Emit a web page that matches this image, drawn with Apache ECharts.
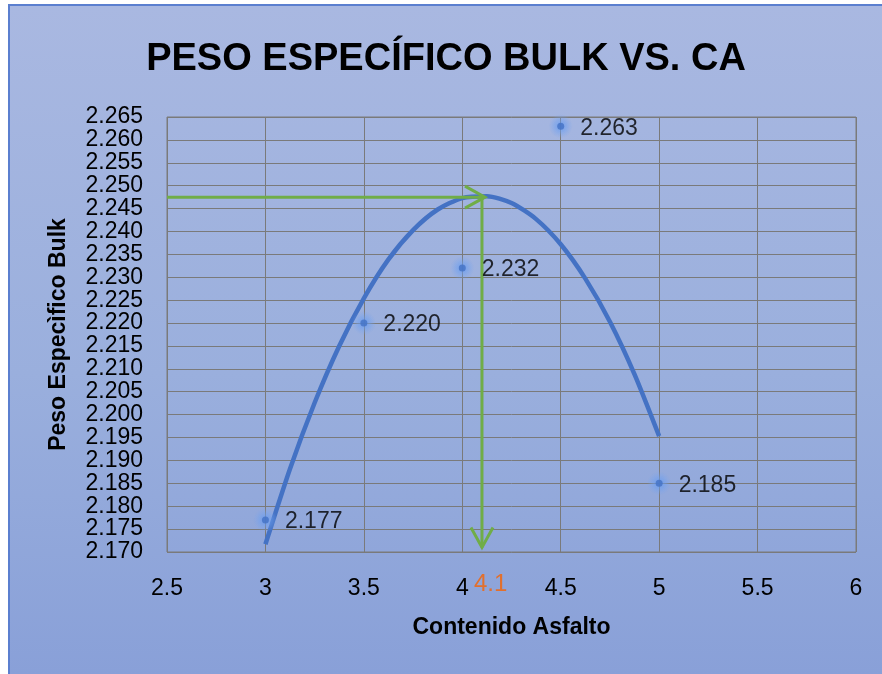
<!DOCTYPE html>
<html>
<head>
<meta charset="utf-8">
<script src="https://cdn.jsdelivr.net/npm/echarts@6/dist/echarts.min.js"></script>
<style>
  html, body { margin: 0; padding: 0; background: #ffffff; }
  #frame {
    position: absolute; left: 8px; top: 4px; width: 874px; height: 670px;
    box-sizing: border-box;
    border-left: 2px solid #5b7fcf; border-top: 2px solid #5b7fcf;
    background: linear-gradient(to bottom, #a9b8e1 0%, #9aafdd 55%, #89a0d8 100%);
  }
  #chart { width: 872px; height: 668px; }
</style>
</head>
<body>
<div id="frame"><div id="chart"></div></div>
<script>
// Asphalt content (%) and measured bulk specific gravity
const contenido = [3, 3.5, 4, 4.5, 5];
const pesoBulk = [2.177, 2.220, 2.232, 2.263, 2.185];

// Polynomial trendline, sampled along the drawn curve
const trendX = [3, 3.125, 3.25, 3.375, 3.5, 3.625, 3.75, 3.875, 4, 4.125, 4.25, 4.375, 4.5, 4.625, 4.75, 4.875, 5];
const trendY = [2.1717, 2.1882, 2.2026, 2.2150, 2.2254, 2.2339, 2.2403, 2.2448, 2.2473,
                2.2477, 2.2462, 2.2427, 2.2372, 2.2297, 2.2203, 2.2088, 2.1953];

// Optimum
const optimoCA = 4.1;
const optimoPeso = 2.2475;

// Axis ranges
const xMin = 2.5, xMax = 6, xStep = 0.5;
const yMin = 2.170, yMax = 2.265, yStep = 0.005;

// Guide arrows: [x1, y1, x2, y2]
const arrows = [
  [xMin, optimoPeso, optimoCA, optimoPeso],
  [optimoCA, optimoPeso, optimoCA, yMin + 0.001]
];

const FONT = 'Liberation Sans';
const chart = echarts.init(document.getElementById('chart'), null, { renderer: 'canvas' });

const green = '#70ad47';

function renderArrow(params, api) {
  const p1 = api.coord([api.value(0), api.value(1)]);
  const p2 = api.coord([api.value(2), api.value(3)]);
  const dx = p2[0] - p1[0], dy = p2[1] - p1[1];
  const len = Math.sqrt(dx * dx + dy * dy) || 1;
  const ux = dx / len, uy = dy / len;
  // horizontal guide overshoots the vertical one slightly so the tip meets it
  const tipX = p2[0] + ux * 3, tipY = p2[1];
  const headLen = 20, headHalf = 11;
  const bx = tipX - ux * headLen, by = tipY - uy * headLen;
  const nx = -uy, ny = ux;
  return {
    type: 'group',
    children: [
      { type: 'line', shape: { x1: p1[0], y1: p1[1], x2: tipX, y2: tipY },
        style: { stroke: green, lineWidth: 3 } },
      { type: 'polyline',
        shape: { points: [[bx + nx * headHalf, by + ny * headHalf], [tipX, tipY], [bx - nx * headHalf, by - ny * headHalf]] },
        style: { stroke: green, lineWidth: 3, fill: null } }
    ]
  };
}

function renderOptLabel(params, api) {
  const p = api.coord([api.value(0), api.value(1)]);
  return {
    type: 'text',
    x: p[0] - 8, y: p[1] + 32,
    style: { text: String(api.value(0)), fill: '#e2702d', font: '24px ' + FONT, textAlign: 'left', textVerticalAlign: 'middle' }
  };
}

const puntos = contenido.map((x, i) => [x, pesoBulk[i]]);

const option = {
  animation: false,
  title: {
    text: 'PESO ESPECÍFICO BULK VS. CA',
    left: 'center', top: 30,
    textStyle: { fontFamily: FONT, fontWeight: 'bold', fontSize: 38, color: '#000000' }
  },
  grid: { left: 157, right: 26, top: 111, bottom: 122, show: true, borderColor: '#7a7a7a', borderWidth: 1 },
  xAxis: {
    type: 'value', min: xMin, max: xMax, interval: xStep,
    name: 'Contenido Asfalto', nameLocation: 'middle', nameGap: 64,
    nameTextStyle: { fontFamily: FONT, fontWeight: 'bold', fontSize: 23, color: '#000' },
    axisLine: { show: false }, axisTick: { show: false },
    axisLabel: { fontFamily: FONT, fontSize: 23, color: '#000', margin: 25 },
    splitLine: { show: true, lineStyle: { color: '#7a7a7a', width: 1 } }
  },
  yAxis: {
    type: 'value', min: yMin, max: yMax, interval: yStep,
    name: 'Peso Especìfico Bulk', nameLocation: 'middle', nameGap: 97,
    nameTextStyle: { fontFamily: FONT, fontWeight: 'bold', fontSize: 23, color: '#000' },
    axisLine: { show: false }, axisTick: { show: false },
    axisLabel: { fontFamily: FONT, fontSize: 23, color: '#000', margin: 24,
      formatter: v => v.toFixed(3) },
    splitLine: { show: true, lineStyle: { color: '#7a7a7a', width: 1 } }
  },
  series: [
    {
      type: 'line', name: 'Tendencia',
      data: trendX.map((x, i) => [x, trendY[i]]),
      smooth: 0.25, showSymbol: false,
      lineStyle: { color: '#4472c4', width: 4.5 },
      z: 3
    },
    {
      type: 'custom', name: 'Guías',
      renderItem: renderArrow,
      data: arrows,
      z: 4
    },
    {
      type: 'custom', name: 'Óptimo',
      renderItem: renderOptLabel,
      data: [[optimoCA, yMin]],
      clip: false,
      z: 5
    },
    {
      // soft glow behind each measured point
      type: 'scatter', name: 'Resplandor',
      data: puntos,
      symbol: 'circle', symbolSize: 24, silent: true,
      itemStyle: {
        color: {
          type: 'radial', x: 0.5, y: 0.5, r: 0.5,
          colorStops: [
            { offset: 0, color: 'rgba(95,150,240,0.95)' },
            { offset: 0.5, color: 'rgba(110,160,240,0.6)' },
            { offset: 1, color: 'rgba(120,165,240,0)' }
          ]
        }
      },
      z: 5
    },
    {
      type: 'scatter', name: 'Peso Específico Bulk',
      data: puntos,
      symbol: 'circle', symbolSize: 7,
      itemStyle: { color: '#4472c4' },
      label: {
        show: true, position: 'right', distance: 16, offset: [0, 2],
        fontFamily: FONT, fontSize: 23, color: '#000',
        formatter: p => p.value[1].toFixed(3)
      },
      z: 6
    }
  ]
};

chart.setOption(option);
</script>
</body>
</html>
